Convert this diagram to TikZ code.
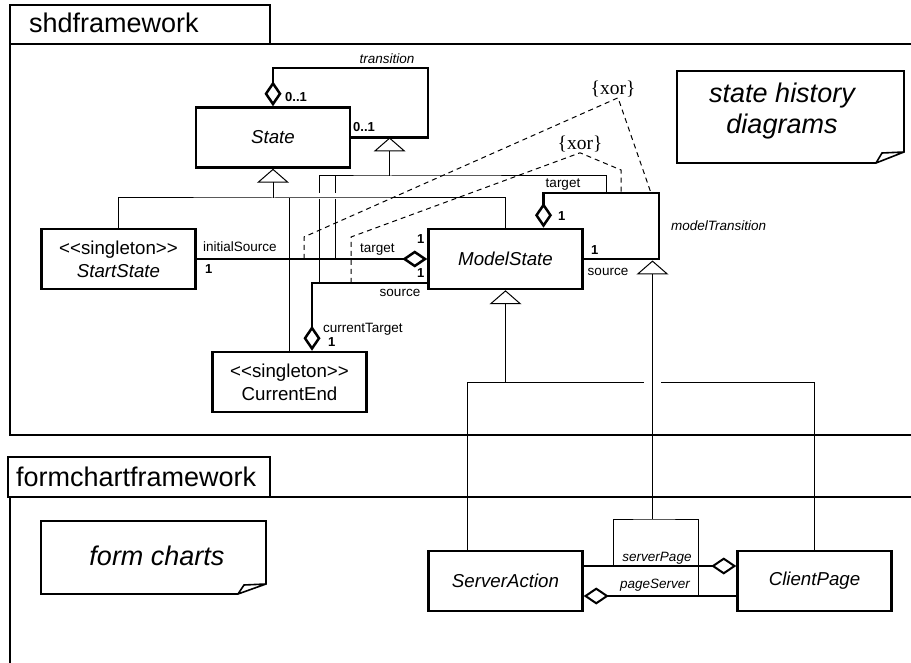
\documentclass[tikz,border=0pt]{standalone}
\usepackage{fontspec}
\setmainfont{Liberation Sans}
\newfontfamily\xorfont{Liberation Serif}
\usetikzlibrary{arrows.meta,calc}
\newcommand{\singleton}{<\kern0pt<singleton>\kern0pt>}

\begin{document}
\begin{tikzpicture}[x=1pt,y=-1pt,
        umlclass/.style={draw,line width=2.5pt,minimum width=154pt,minimum height=60pt,
            align=center,inner sep=2pt,font=\fontsize{18.7}{23}\selectfont},
        pkg/.style={line width=2.5pt},
        pkgname/.style={anchor=base west,inner sep=0pt,font=\fontsize{27}{30}\selectfont},
        note/.style={line width=1.6pt},
        notetext/.style={align=center,inner sep=0pt,font=\fontsize{27}{31}\selectfont\itshape},
        agg/.style={line width=2.5pt,{Diamond[open,length=25pt,width=17pt]}-},
        gen/.style={line width=1pt},
        genhead/.style={gen,-{Triangle[open,length=14pt,width=32pt]}},
        role/.style={inner sep=0pt,font=\fontsize{13.5}{16}\selectfont},
        mult/.style={inner sep=0pt,font=\fontsize{13}{16}\selectfont\bfseries},
        xortext/.style={inner sep=0pt,font=\fontsize{19.5}{22}\xorfont},
        xor/.style={line width=1pt,dash pattern=on 5pt off 4pt}]

    \useasboundingbox (0,0) rectangle (911,663);

    % packages
    \draw[pkg] (10,5) rectangle (270,44);
    \node[pkgname] (shdname) at (29,33) {shdframework};
    \draw[pkg] (915,44) -- (10,44) -- (10,435) -- (915,435);
    \draw[pkg] (8,457) rectangle (270,497);
    \node[pkgname] (fcname) at (16,486) {formchartframework};
    \draw[pkg] (915,497) -- (10,497) -- (10,670);

    % notes
    \draw[note] (677,71) -- (904,71) -- (904,152) -- (876,163) -- (677,163) -- cycle
        (876,163) -- (882,153) -- (904,152);
    \node[notetext] (shdnote) at (782,111) {state history\\diagrams};
    \draw[note] (41,521) -- (266,521) -- (266,584) -- (238,594) -- (41,594) -- cycle
        (238,594) -- (244,585) -- (266,584);
    \node[notetext] (fcnote) at (157,556) {form charts};

    % classes
    \node[umlclass] (State) at (273,137.5) {\itshape State};
    \node[umlclass] (StartState) at (118.5,259) {\singleton\\\textit{StartState}};
    \node[umlclass] (CurrentEnd) at (289.5,382) {\singleton\\CurrentEnd};
    \node[umlclass] (ModelState) at (505.5,259) {\itshape ModelState};
    \node[umlclass] (ServerAction) at (505.5,581) {\itshape ServerAction};
    \node[umlclass] (ClientPage) at (814.5,581) {\itshape ClientPage};

    % transition
    \coordinate (trtop) at (428,68);
    \draw[agg] (State.north) |- (trtop) |- (State.east);
    \node[role,anchor=base] at (387,64) {\itshape transition};
    \node[mult,anchor=base west] at (285,102) {0..1};
    \node[mult,anchor=base west] at (353,132) {0..1};

    % initialSource / target
    \draw[agg] (ModelState.west) -- (StartState.east);
    \node[role,anchor=base west] at (203,252) {initialSource};
    \node[mult,anchor=base west] at (205,274) {1};
    \node[role,anchor=base west] at (360,253) {target};
    \node[mult,anchor=base west] at (417,244) {1};

    % source / currentTarget
    \coordinate (srcend) at ($(ModelState.west)+(0,24)$);
    \coordinate (ctend) at ($(CurrentEnd.north)+(22.5,0)$);
    \draw[agg] (ctend) |- (srcend);
    \node[mult,anchor=base west] at (417,278) {1};
    \node[role,anchor=base] at (400,297) {source};
    \node[role,anchor=base west] at (323,333) {currentTarget};
    \node[mult,anchor=base west] at (328,346) {1};

    % modelTransition
    \coordinate (mttop) at ($(ModelState.north)+(38,0)$);
    \coordinate (mtcorner) at (659,193);
    \draw[agg] (mttop) |- (mtcorner) |- (ModelState.east);
    \node[role,anchor=base] at (563,188) {target};
    \node[mult,anchor=base west] at (558,221) {1};
    \node[mult,anchor=base west] at (591,255) {1};
    \node[role,anchor=base] at (608,276) {source};
    \node[role,anchor=base west] at (671,231) {\itshape modelTransition};

    % serverPage / pageServer
    \draw[agg,line width=2pt] ($(ClientPage.west)+(0,-15)$) -- ($(ServerAction.east)+(0,-15)$);
    \draw[agg,line width=2pt] ($(ServerAction.east)+(0,15)$) -- ($(ClientPage.west)+(0,15)$);
    \node[role,anchor=base] at (657,561) {\itshape serverPage};
    \node[role,anchor=base] at (655,588) {\itshape pageServer};

    % generalizations of State
    \coordinate (stjoin) at (273,198);
    \draw[genhead] (stjoin) -- (State.south);
    \draw[gen] (StartState.north) |- (stjoin) -| (ModelState.north);
    \draw[gen] (CurrentEnd.north) -- (289.5,198);

    % generalizations of transition
    \coordinate (trmid) at ($(State.east)!0.5!(trtop |- State.east)$);
    \coordinate (trjoin) at ($(trmid)+(0,38.5)$);
    \draw[genhead] (trjoin) -- (trmid);
    \draw[gen] (319,193) |- (trjoin) -| (606,193);
    \draw[gen] (335,176) -- (335,193);
    \draw[gen] (319,199) -- (319,283);
    \draw[gen] (335,199) -- (335,259);

    % generalizations of ModelState
    \coordinate (msjoin) at (505.5,382);
    \draw[genhead] (msjoin) -- (ModelState.south);
    \draw[gen] ($(ServerAction.north)+(-38.5,0)$) |- (644,382);
    \draw[gen] (661,382) -| (ClientPage.north);

    % generalizations of modelTransition
    \coordinate (mtgen) at (652.5,519);
    \draw[genhead] (mtgen) -- (652.5,260.5);
    \draw[gen] (613,566) |- (mtgen) -| (698,596);

    % xor constraints
    \node[xortext,anchor=base] (xorup) at (613,95) {\{xor\}};
    \draw[xor] (304,259) -- (304,237) -- ($(xorup.south)+(5,0)$) -- (651,193);
    \node[xortext,anchor=base] (xorlow) at (580,150) {\{xor\}};
    \draw[xor] (351,283) -- (351,237) -- (xorlow.south) -- (621,170) -- (621,193);
\end{tikzpicture}
\end{document}
